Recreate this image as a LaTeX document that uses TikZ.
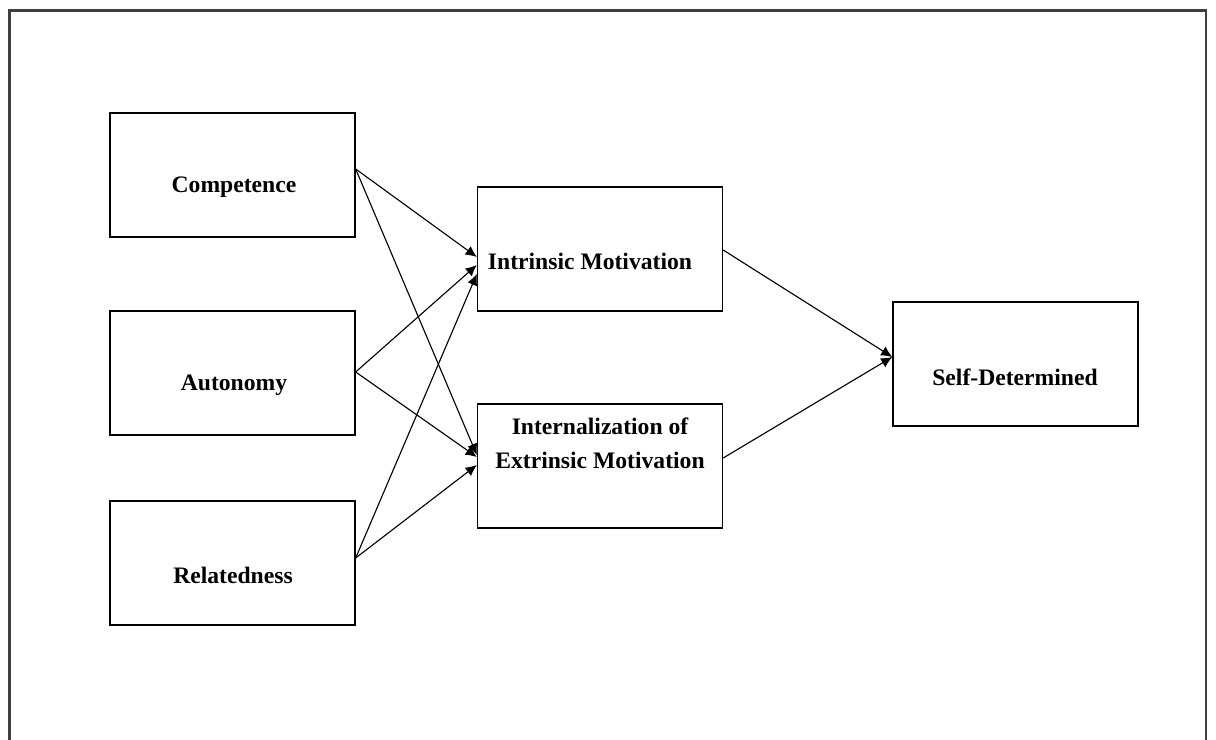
\documentclass[tikz,border=0pt]{standalone}
\usepackage{fontspec}
\setmainfont{Liberation Serif}
\usetikzlibrary{arrows.meta,calc}

\tikzset{
  box/.style={draw=black,line width=0.9pt,minimum width=6.125cm,minimum height=3.1cm,inner sep=0pt},
  txt/.style={font=\fontsize{16.8}{24}\selectfont\bfseries,align=center,inner sep=0pt},
  arr/.style={line width=0.8pt,-{Latex[length=2.8mm,width=2.6mm]}}
}

\begin{document}
\begin{tikzpicture}[x=0.025cm,y=-0.025cm]
      \useasboundingbox (0,0) rectangle (1216,740) ;
      \draw[line width=1.6pt,black!75] (9.5,740)--(9.5,10.5)--(1206,10.5)--(1206,740) ;
      % needs
      \node[box] (comp) at (232.5,175) {} ;
      \node[box] (auto) at (232.5,373) {} ;
      \node[box] (rel) at (232.5,563) {} ;
      \node[txt] (compt) at (234,187) {Competence} ;
      \node[txt] (autot) at (234,385) {Autonomy} ;
      \node[txt] (relt) at (233,575) {Relatedness} ;
      % motivation
      \node[box] (intr) at (600,249) {} ;
      \node[box] (intern) at (600,466) {} ;
      \node[txt] (intrt) at (590,261) {Intrinsic Motivation} ;
      \node[txt] (internt) at (600,443) {Internalization of\\Extrinsic Motivation} ;
      \node[box] (self) at (1015.5,364) {} ;
      \node[txt] (selft) at (1015,377) {Self-Determined} ;
      \draw[arr] ($(comp.east)+(0,-6)$)--($(intr.west)+(0,8)$) ;
      \draw[arr] ($(comp.east)+(0,-6)$)--($(intern.west)+(0,-11)$) ;
      \draw[arr] ($(auto.east)+(0,-1)$)--($(intr.west)+(0,16)$) ;
      \draw[arr] ($(auto.east)+(0,-1)$)--($(intern.west)+(0,-9)$) ;
      \draw[arr] ($(rel.east)+(0,-5)$)--($(intr.west)+(0,25)$) ;
      \draw[arr] ($(rel.east)+(0,-5)$)--($(intern.west)+(0,-1)$) ;
      \draw[arr] ($(intr.east)+(0,1)$)--($(self.west)+(0,-7)$) ;
      \draw[arr] ($(intern.east)+(0,-8)$)--($(self.west)+(0,-7)$) ;
    \end{tikzpicture}
\end{document}
